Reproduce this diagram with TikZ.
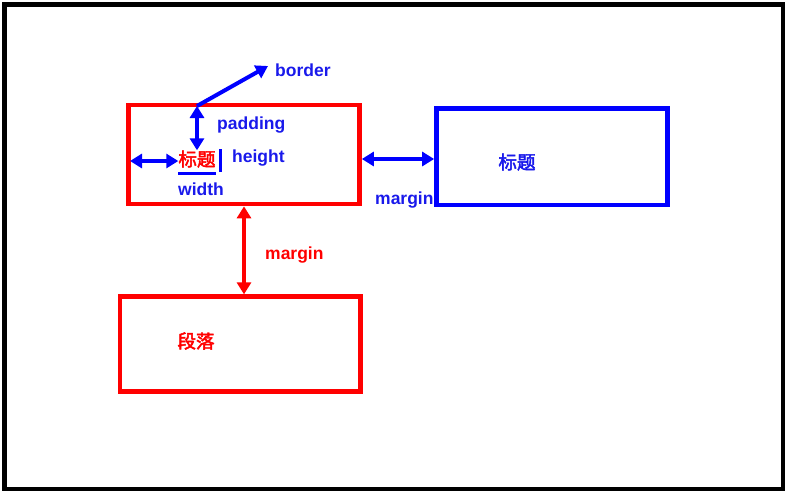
\documentclass[tikz,border=0pt]{standalone}
\usepackage{fontspec}
\setmainfont{Liberation Sans}
\newfontfamily\cjk[FakeBold=2.5]{Noto Sans CJK SC}
\usetikzlibrary{arrows.meta}
\definecolor{cssred}{RGB}{255,0,0}
\definecolor{cssblue}{RGB}{0,0,255}
\definecolor{txtblue}{RGB}{25,25,235}
\newcommand\lbl[1]{\fontsize{17.5}{20}\selectfont\bfseries #1}
\newcommand\cjklbl[1]{\fontsize{18.5}{21}\selectfont\cjk #1}

\begin{document}
\begin{tikzpicture}[
    x=1pt, y=-1pt,
    cssbox/.style={
      draw=#1, line width=4.7pt, inner sep=0pt
    },
    txt/.style={
      text=#1, inner sep=0pt
    },
    dblarrow/.style={
      draw=#1, line width=4pt,
      {Triangle[length=12pt,width=14pt]}-{Triangle[length=12pt,width=14pt]}
    },
    onearrow/.style={
      draw=#1, line width=4pt,
      -{Triangle[length=12pt,width=14pt]}
    }
  ]
    \useasboundingbox (0,0) rectangle (790,496);
    \draw[line width=4.7pt] (4.3,4.3) rectangle (783,489);

    % the three boxes
    \node[cssbox=cssred,  minimum width=231pt,   minimum height=99pt] (BoxA) at (244,154.5) {};
    \node[cssbox=cssblue, minimum width=231pt,   minimum height=96.5pt] (BoxB) at (552,156.75) {};
    \node[cssbox=cssred,  minimum width=240.8pt, minimum height=95pt] (BoxC) at (240.4,344.2) {};

    % texts
    \node[txt=cssred]  (TitleA) at (197,159) { \cjklbl{标题} };
    \node[txt=txtblue] (TitleB) at (517,162) { \cjklbl{标题} };
    \node[txt=cssred]  (Para)   at (196,341) { \cjklbl{段落} };

    \node[txt=txtblue, anchor=west] (Border)  at (275,70)  { \lbl{border} };
    \node[txt=txtblue, anchor=west] (Padding) at (217,125) { \lbl{padding} };
    \node[txt=txtblue, anchor=west] (Height)  at (232,158) { \lbl{height} };
    \node[txt=txtblue, anchor=west] (Width)   at (178,189) { \lbl{width} };
    \node[txt=txtblue, anchor=west] (MarginB) at (375,200) { \lbl{margin} };
    \node[txt=cssred,  anchor=west] (MarginA) at (265,255) { \lbl{margin} };

    \coordinate (PadTop)    at (197,106);
    \coordinate (BorderTip) at (268,66);
    \coordinate (LeftEdge)  at (130,161);

    % connectors
    \draw[dblarrow=cssblue] (LeftEdge) -- (TitleA.west |- LeftEdge);
    \draw[dblarrow=cssblue] (PadTop) -- (TitleA.north);
    \draw[onearrow=cssblue] (PadTop) -- (BorderTip);
    \draw[dblarrow=cssblue] (BoxA.east |- TitleA) -- (BoxB.west |- TitleA);
    \draw[dblarrow=cssred]  (BoxA.south) -- (BoxA.south |- BoxC.north);

    % width and height marks
    \draw[cssblue, line width=3pt] (TitleA.south west) ++(0,6) coordinate (WidthL) -- (WidthL -| TitleA.south east);
    \draw[cssblue, line width=3pt] (TitleA.north east) ++(5,-1) coordinate (HeightT) -- ++(0,23);
  \end{tikzpicture}
\end{document}
